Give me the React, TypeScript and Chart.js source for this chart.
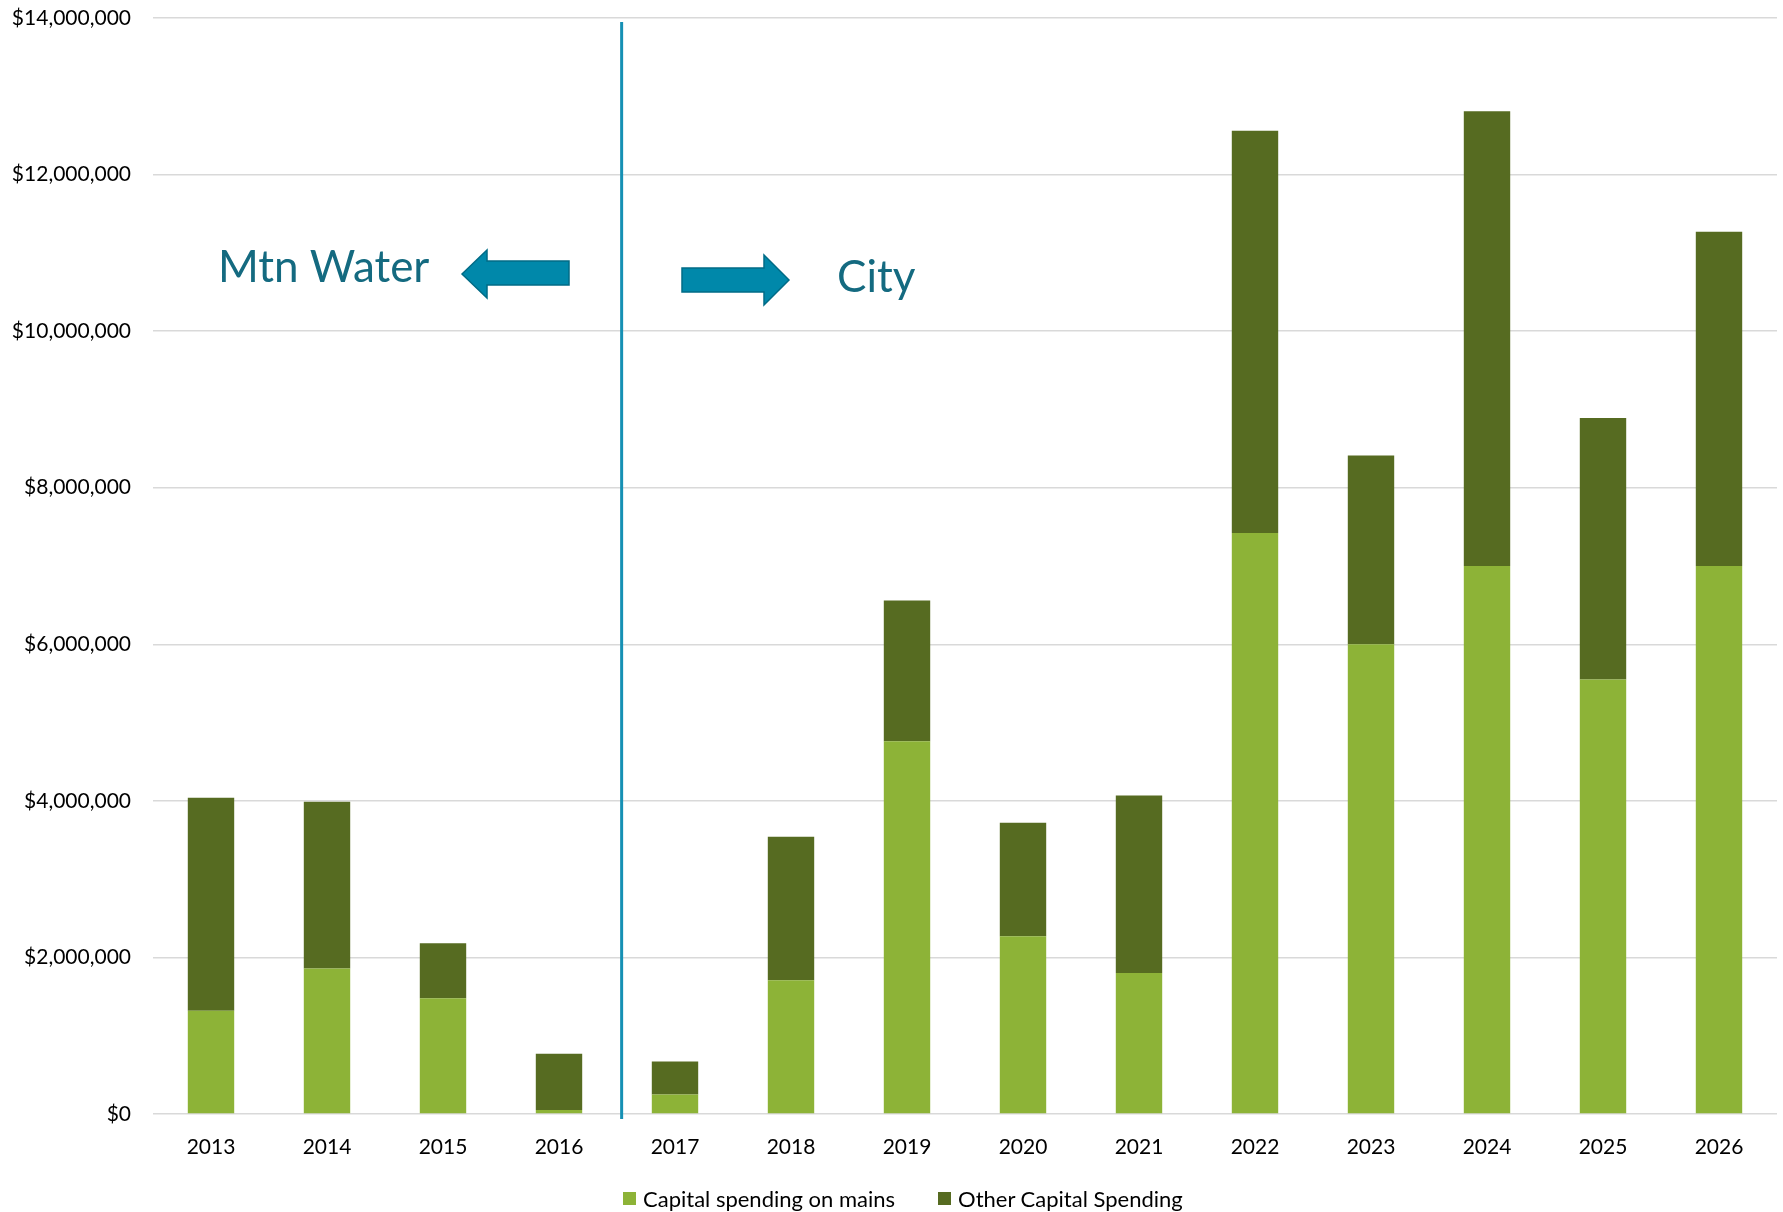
import React, { useEffect, useRef } from "react";
import { Chart, registerables } from "chart.js";

Chart.register(...registerables);

const categories = ["2013", "2014", "2015", "2016", "2017", "2018", "2019", "2020", "2021", "2022", "2023", "2024", "2025", "2026"];
const mainsSpending = [1320000, 1860000, 1480000, 50000, 250000, 1710000, 4760000, 2270000, 1800000, 7420000, 6000000, 7000000, 5550000, 7000000];
const otherSpending = [2720000, 2130000, 700000, 720000, 420000, 1830000, 1800000, 1450000, 2270000, 5140000, 2410000, 5810000, 3340000, 4270000];
const yTicks = [0, 2000000, 4000000, 6000000, 8000000, 10000000, 12000000, 14000000];
const seriesNames = ["Capital spending on mains", "Other Capital Spending"];
const seriesColors = ["#8DB337", "#566B21"];
const annotationLabels = ["Mtn Water", "City"];

const FONT = "Lato, 'Open Sans', sans-serif";

const annotationPlugin = {
  id: "annotations",
  afterDatasetsDraw(chart: any) {
    const ctx = chart.ctx;
    const { top, bottom, left } = chart.chartArea;
    const xs = chart.scales.x;
    ctx.save();
    const lx = xs.getPixelForValue(3.54);
    ctx.strokeStyle = "#1690B4";
    ctx.lineWidth = 3;
    ctx.beginPath();
    ctx.moveTo(lx, top + 4);
    ctx.lineTo(lx, bottom + 5);
    ctx.stroke();

    const ox = left - 153;
    const oy = top - 18;
    ctx.fillStyle = "#0088AA";
    ctx.strokeStyle = "#006B86";
    ctx.lineWidth = 1.5;
    ctx.beginPath();
    ctx.moveTo(ox + 462, oy + 274);
    ctx.lineTo(ox + 487, oy + 250);
    ctx.lineTo(ox + 487, oy + 261);
    ctx.lineTo(ox + 569, oy + 261);
    ctx.lineTo(ox + 569, oy + 285);
    ctx.lineTo(ox + 487, oy + 285);
    ctx.lineTo(ox + 487, oy + 298);
    ctx.closePath();
    ctx.fill();
    ctx.stroke();
    ctx.beginPath();
    ctx.moveTo(ox + 789, oy + 280);
    ctx.lineTo(ox + 764, oy + 255);
    ctx.lineTo(ox + 764, oy + 268);
    ctx.lineTo(ox + 682, oy + 268);
    ctx.lineTo(ox + 682, oy + 292);
    ctx.lineTo(ox + 764, oy + 292);
    ctx.lineTo(ox + 764, oy + 305);
    ctx.closePath();
    ctx.fill();
    ctx.stroke();

    ctx.fillStyle = "#146A80";
    ctx.font = `44px ${FONT}`;
    ctx.textBaseline = "alphabetic";
    ctx.textAlign = "left";
    ctx.fillText(annotationLabels[0], ox + 218, oy + 282);
    ctx.fillText(annotationLabels[1], ox + 837, oy + 292);
    ctx.restore();
  },
};

export default function App() {
  const ref = useRef<HTMLCanvasElement | null>(null);
  useEffect(() => {
    document.body.style.margin = "0";
    const canvas = ref.current;
    if (!canvas) return;
    const chart = new Chart(canvas, {
      type: "bar",
      data: {
        labels: categories,
        datasets: [
          {
            label: seriesNames[0],
            data: mainsSpending,
            backgroundColor: seriesColors[0],
            borderWidth: 0,
            categoryPercentage: 0.8,
            barPercentage: 0.5,
          },
          {
            label: seriesNames[1],
            data: otherSpending,
            backgroundColor: seriesColors[1],
            borderWidth: 0,
            categoryPercentage: 0.8,
            barPercentage: 0.5,
          },
        ],
      },
      options: {
        responsive: false,
        animation: false,
        layout: { padding: { top: 18, right: 6, left: 0, bottom: 0 } },
        plugins: {
          legend: { display: false },
          tooltip: { enabled: false },
        },
        scales: {
          x: {
            stacked: true,
            grid: { display: false },
            border: { display: false },
            ticks: { color: "#000", font: { family: FONT, size: 21 }, padding: 13 },
            afterFit: (s: any) => {
              s.height = 98;
            },
          },
          y: {
            stacked: true,
            min: 0,
            max: 14000000,
            afterBuildTicks: (s: any) => {
              s.ticks = yTicks.map((v) => ({ value: v }));
            },
            grid: { color: "#D9D9D9", lineWidth: 1.5, drawTicks: true, tickLength: 20, tickColor: "rgba(0,0,0,0)" },
            border: { display: false },
            ticks: {
              color: "#000",
              font: { family: FONT, size: 21 },
              padding: 2,
              callback: (v: any) => "$" + Number(v).toLocaleString("en-US"),
            },
            afterFit: (s: any) => {
              s.width = 153;
            },
          },
        },
      },
      plugins: [annotationPlugin],
    });
    return () => chart.destroy();
  }, []);
  return (
    <div style={{ width: 1783, height: 1212, position: "relative", background: "#fff" }}>
      <canvas ref={ref} width={1783} height={1212} style={{ display: "block" }} />
      <div
        style={{
          position: "absolute",
          left: 623,
          top: 1184,
          height: 28,
          display: "flex",
          alignItems: "center",
          fontFamily: FONT,
          fontSize: 22,
          color: "#000",
          whiteSpace: "nowrap",
        }}
      >
        {seriesNames.map((name, i) => (
          <div key={name} style={{ display: "flex", alignItems: "center", marginRight: i === 0 ? 43 : 0 }}>
            <span style={{ display: "inline-block", width: 13, height: 13, background: seriesColors[i], marginRight: 7 }} />
            <span>{name}</span>
          </div>
        ))}
      </div>
    </div>
  );
}
